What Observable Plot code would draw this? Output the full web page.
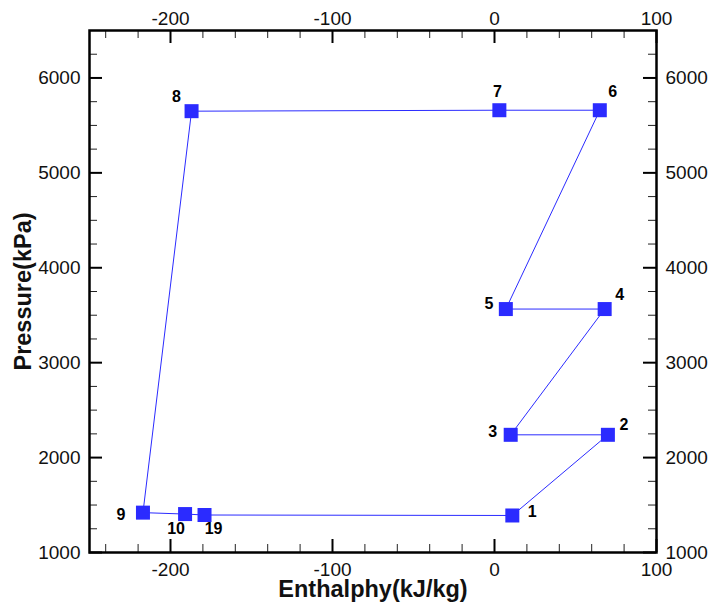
<!DOCTYPE html>
<html><head><meta charset="utf-8">
<script src="https://cdn.jsdelivr.net/npm/d3@7"></script>
<script src="https://cdn.jsdelivr.net/npm/@observablehq/plot@0.6"></script>
<style>body{margin:0;background:#fff;} #chart svg{display:block;}</style>
</head><body><div id="chart"></div>
<script>
// ---- data ----
const stateLabels = ["1", "2", "3", "4", "5", "6", "7", "8", "9", "10", "19"];
const enthalpy = [11, 70, 10, 68, 7, 65, 3, -187, -217, -191, -179];
const pressure = [1390, 2240, 2240, 3565, 3565, 5660, 5660, 5650, 1420, 1405, 1395];

const xMajorTicks = [-200, -100, 0, 100];
const xMinorTicks = [-240, -220, -180, -160, -140, -120, -80, -60, -40, -20, 20, 40, 60, 80];
const yMajorTicks = [1000, 2000, 3000, 4000, 5000, 6000];
const yMinorTicks = [1250, 1500, 1750, 2250, 2500, 2750, 3250, 3500, 3750, 4250, 4500, 4750, 5250, 5500, 5750, 6250];

// label placement (pixel offsets, style only)
const labelOffsets = {
  "1": [20, -4], "2": [16, -10], "3": [-18, -3], "4": [15, -14], "5": [-17, -5],
  "6": [13, -18], "7": [-2, -18], "8": [-15, -14], "9": [-22, 2], "10": [-9, 15], "19": [9, 14]
};

// ---- build ----
const pts = stateLabels.map((s, i) => ({label: s, h: enthalpy[i], p: pressure[i]}));
const loop = pts.concat([pts[0]]);

const W = 711, H = 607;
const mL = 89, mR = 55, mT = 30, mB = 55;
const innerW = W - mL - mR, innerH = H - mT - mB;
const majorLen = 13, minorLen = 8;
const font = "'Liberation Sans', Arial, Helvetica, sans-serif";
const blue = "#2b2bff";
const fmt = d => String(d);

const labelMarks = pts.map(d => Plot.text([d], {
  x: "h", y: "p", text: "label",
  dx: labelOffsets[d.label][0], dy: labelOffsets[d.label][1],
  fontSize: 16, fontWeight: "bold", fill: "#000"
}));

const chart = Plot.plot({
  width: W, height: H,
  marginLeft: mL, marginRight: mR, marginTop: mT, marginBottom: mB,
  style: {fontFamily: font, background: "#fff", overflow: "visible"},
  x: {domain: [-250, 100]},
  y: {domain: [1000, 6500]},
  marks: [
    // tick labels
    Plot.axisX({anchor: "bottom", ticks: xMajorTicks, tickFormat: fmt, tickSize: 0, tickPadding: 10, fontSize: 19, label: null, fill: "#111"}),
    Plot.axisX({anchor: "top", ticks: xMajorTicks, tickFormat: fmt, tickSize: 0, tickPadding: 6, fontSize: 19, label: null, fill: "#111"}),
    Plot.axisY({anchor: "left", ticks: yMajorTicks, tickFormat: fmt, tickSize: 0, tickPadding: 9, fontSize: 19, label: null, fill: "#111"}),
    Plot.axisY({anchor: "right", ticks: yMajorTicks, tickFormat: fmt, tickSize: 0, tickPadding: 9, fontSize: 19, label: null, fill: "#111"}),
    // inward ticks
    Plot.tickX(xMajorTicks, {x: d => d, insetTop: innerH - majorLen, strokeWidth: 2, stroke: "#000"}),
    Plot.tickX(xMajorTicks, {x: d => d, insetBottom: innerH - majorLen, strokeWidth: 2, stroke: "#000"}),
    Plot.tickX(xMinorTicks, {x: d => d, insetTop: innerH - minorLen, strokeWidth: 1, stroke: "#222"}),
    Plot.tickX(xMinorTicks, {x: d => d, insetBottom: innerH - minorLen, strokeWidth: 1, stroke: "#222"}),
    Plot.tickY(yMajorTicks, {y: d => d, insetRight: innerW - majorLen, strokeWidth: 2, stroke: "#000"}),
    Plot.tickY(yMajorTicks, {y: d => d, insetLeft: innerW - majorLen, strokeWidth: 2, stroke: "#000"}),
    Plot.tickY(yMinorTicks, {y: d => d, insetRight: innerW - minorLen, strokeWidth: 1, stroke: "#222"}),
    Plot.tickY(yMinorTicks, {y: d => d, insetLeft: innerW - minorLen, strokeWidth: 1, stroke: "#222"}),
    Plot.frame({stroke: "#000", strokeWidth: 2.5}),
    // cycle
    Plot.line(loop, {x: "h", y: "p", stroke: blue, strokeWidth: 1}),
    Plot.dot(pts, {x: "h", y: "p", symbol: "square", r: 7.9, fill: blue, stroke: "none"}),
    ...labelMarks,
    // axis titles
    Plot.text(["Enthalphy(kJ/kg)"], {frameAnchor: "bottom", dy: 44, text: d => d, fontSize: 23.5, fontWeight: "bold", fill: "#111", lineAnchor: "bottom"}),
    Plot.text(["Pressure(kPa)"], {frameAnchor: "left", textAnchor: "middle", dx: -59, dy: 0, text: d => d, rotate: -90, fontSize: 23.5, fontWeight: "bold", fill: "#111", lineAnchor: "bottom"})
  ]
});
document.getElementById("chart").appendChild(chart);
</script>
</body></html>
